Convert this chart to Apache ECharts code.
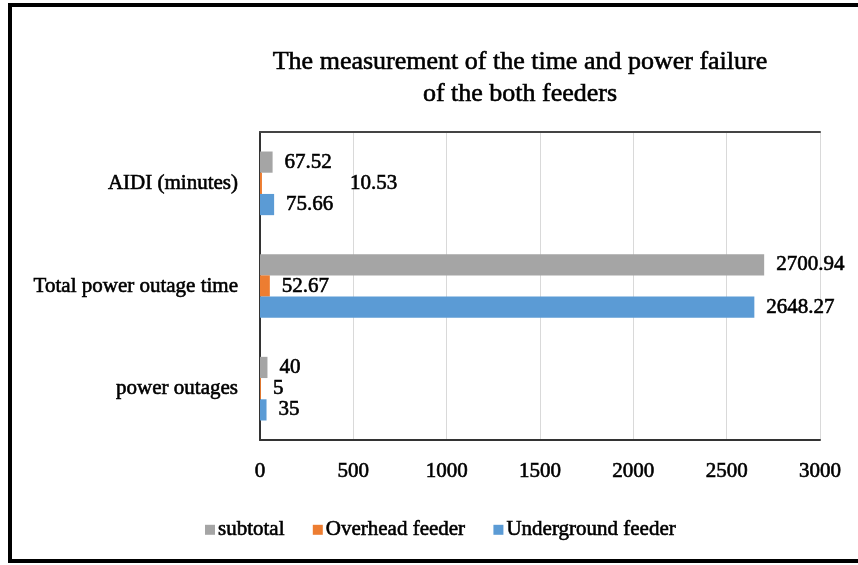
<!DOCTYPE html>
<html>
<head>
<meta charset="utf-8">
<script src="https://cdn.jsdelivr.net/npm/echarts@6/dist/echarts.min.js"></script>
<style>html,body{margin:0;padding:0;background:#fff}#c{width:858px;height:565px}</style>
</head>
<body>
<div id="c"></div>
<script>
const categories = ['power outages', 'Total power outage time', 'AIDI (minutes)'];
const subtotal = [40, 2700.94, 67.52];
const overhead = [5, 52.67, 10.53];
const underground = [35, 2648.27, 75.66];
const seriesNames = ['subtotal', 'Overhead feeder', 'Underground feeder'];
const xTicks = [0, 500, 1000, 1500, 2000, 2500, 3000];

const FONT = '"Liberation Serif", "Times New Roman", serif';
const colors = ['#A5A5A5', '#ED7D31', '#5B9BD5'];
const seriesData = [subtotal, overhead, underground];
const heavy = { textBorderColor: '#000', textBorderWidth: 0.6 };

function mkSeries(i) {
  return {
    name: seriesNames[i],
    type: 'bar',
    barGap: '0%',
    barCategoryGap: '38%',
    itemStyle: { color: colors[i] },
    label: Object.assign({
      show: true, position: 'right', distance: 12,
      fontFamily: FONT, fontSize: 21, color: '#000'
    }, heavy),
    data: seriesData[i].map((v, j) => {
      const d = { value: v };
      if (i === 1 && j === 2) d.label = { offset: [76, 0] };
      return d;
    })
  };
}

const chart = echarts.init(document.getElementById('c'));
chart.setOption({
  animation: false,
  backgroundColor: '#fff',
  title: {
    text: 'The measurement of the time and power failure\nof the both feeders',
    left: 515, top: 41, textAlign: 'center',
    textStyle: Object.assign({ fontFamily: FONT, fontSize: 26, fontWeight: 'normal', color: '#000', lineHeight: 32 }, heavy)
  },
  legend: {
    data: seriesNames,
    left: 200, top: 514,
    itemWidth: 10, itemHeight: 10, itemGap: 28,
    icon: 'rect',
    textStyle: Object.assign({ fontFamily: FONT, fontSize: 21, color: '#000', padding: [0, 0, 0, -2] }, heavy)
  },
  grid: { left: 260, right: 38, top: 132, bottom: 125, containLabel: false },
  xAxis: [{
    type: 'value', min: xTicks[0], max: xTicks[xTicks.length - 1], interval: 500,
    axisLine: { show: true, lineStyle: { color: '#333', width: 2 } },
    axisTick: { show: false },
    axisLabel: Object.assign({ fontFamily: FONT, fontSize: 21, color: '#000', margin: 21, formatter: v => String(v) }, heavy),
    splitLine: { show: true, lineStyle: { color: '#d9d9d9', width: 1 } }
  }, {
    type: 'value', position: 'top', min: xTicks[0], max: xTicks[xTicks.length - 1], interval: 500,
    axisLine: { show: true, lineStyle: { color: '#444', width: 2 } },
    axisTick: { show: false }, axisLabel: { show: false }, splitLine: { show: false }
  }],
  yAxis: [{
    type: 'category', data: categories,
    axisLine: { show: true, lineStyle: { color: '#c8c8c8', width: 1 } },
    axisTick: { show: false },
    axisLabel: Object.assign({ fontFamily: FONT, fontSize: 21, color: '#000', margin: 22 }, heavy)
  }, {
    type: 'category', data: categories, position: 'right',
    axisLine: { show: true, lineStyle: { color: '#333', width: 2 } },
    axisTick: { show: false }, axisLabel: { show: false }
  }],
  graphic: [{
    type: 'rect', silent: true, z: 100,
    shape: { x: 10, y: 5, width: 900, height: 556 },
    style: { fill: null, stroke: '#000', lineWidth: 4 }
  }],
  series: [mkSeries(0), mkSeries(1), mkSeries(2)]
});
</script>
</body>
</html>
